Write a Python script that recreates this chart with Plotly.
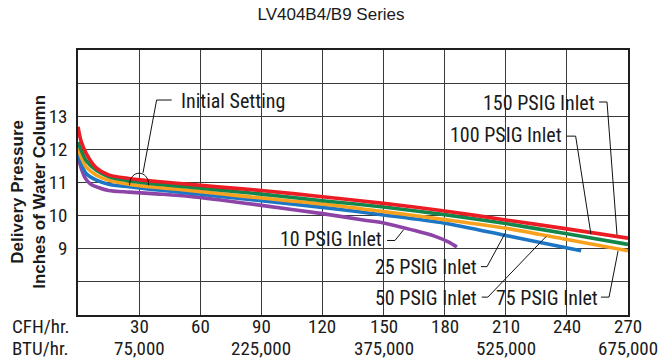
import plotly.graph_objects as go

# ---- data -------------------------------------------------------------
title_text = "LV404B4/B9 Series"

# Flow (CFH) and delivery pressure (in. W.C.) for each inlet pressure
flow_150 = [0, 1.5, 4, 9, 15, 25, 35, 50, 70, 90, 120, 150, 180, 210, 240, 270]
press_150 = [12.68, 12.25, 11.88, 11.44, 11.23, 11.12, 11.05, 10.97, 10.86, 10.76, 10.57, 10.37, 10.14, 9.87, 9.6, 9.32]

flow_100 = [0, 1.5, 4, 9, 15, 25, 35, 50, 70, 90, 120, 150, 180, 210, 240, 270]
press_100 = [12.22, 11.98, 11.66, 11.37, 11.18, 11.05, 10.97, 10.89, 10.77, 10.65, 10.45, 10.26, 10.03, 9.76, 9.45, 9.13]

# 50 and 75 PSIG inlet share one curve
flow_75 = [0, 1.5, 4, 9, 15, 25, 35, 50, 70, 90, 120, 150, 180, 210, 240, 270]
press_75 = [12.02, 11.78, 11.47, 11.22, 11.07, 10.95, 10.87, 10.79, 10.66, 10.53, 10.35, 10.12, 9.88, 9.62, 9.28, 8.94]

flow_25 = [0, 1.5, 4, 9, 15, 25, 35, 50, 70, 90, 120, 150, 180, 210, 230, 247]
press_25 = [11.86, 11.58, 11.27, 11.07, 10.95, 10.87, 10.8, 10.71, 10.58, 10.45, 10.25, 10.02, 9.77, 9.4, 9.15, 8.94]

flow_10 = [0, 1.5, 3.5, 6, 10, 15, 25, 40, 55, 70, 90, 120, 140, 150, 164, 175, 182, 186]
press_10 = [11.8, 11.45, 11.14, 10.96, 10.85, 10.76, 10.71, 10.65, 10.58, 10.47, 10.31, 10.06, 9.87, 9.78, 9.57, 9.38, 9.2, 9.05]

series_names = ["10 PSIG Inlet", "25 PSIG Inlet", "50/75 PSIG Inlet", "100 PSIG Inlet", "150 PSIG Inlet"]
series_colors = ["#8e44a6", "#1c76c4", "#f8a11e", "#13874b", "#ec1c24"]

cfh_ticks = [30, 60, 90, 120, 150, 180, 210, 240, 270]
cfh_labels = ["30", "60", "90", "120", "150", "180", "210", "240", "270"]
btu_ticks = [30, 90, 150, 210, 270]
btu_labels = ["75,000", "225,000", "375,000", "525,000", "675,000"]
y_grid = [7, 8, 9, 10, 11, 12, 13, 14, 15]
y_labels = ["", "", "9", "10", "11", "12", "13", "", ""]

# Callout labels: text, anchor point (flow, pressure), leader polyline
callouts = [
    ("Initial Setting", 49.5, 13.47, "left", [(46.0, 13.49), (38.6, 13.49), (31.9, 11.29)]),
    ("150 PSIG Inlet", 255.0, 13.40, "right", [(255.8, 13.43), (259.7, 13.43), (264.6, 9.42)]),
    ("100 PSIG Inlet", 238.6, 12.44, "right", [(239.9, 12.40), (244.3, 12.40), (251.8, 9.44)]),
    ("10 PSIG Inlet", 150.2, 9.30, "right", [(151.7, 9.25), (155.6, 9.25), (159.8, 9.57)]),
    ("25 PSIG Inlet", 196.9, 8.44, "right", [(197.8, 8.46), (200.8, 8.46), (209.6, 9.46)]),
    ("50 PSIG Inlet", 196.9, 7.50, "right", [(198.2, 7.54), (201.2, 7.54), (229.8, 9.37)]),
    ("75 PSIG Inlet", 256.3, 7.50, "right", [(256.7, 7.54), (260.7, 7.54), (265.1, 8.93)]),
]
# Initial-setting marker arc (centre flow, centre pressure, half-width, height)
arc_cx, arc_cy, arc_rx, arc_ry = 30, 10.92, 4.7, 0.36

# ---- figure -----------------------------------------------------------
NARROW = "Liberation Sans Narrow, Arial Narrow, Roboto Condensed, DejaVu Sans Condensed, Liberation Sans, Arial, sans-serif"
REGULAR = "Liberation Sans, Arial, Helvetica, sans-serif"
TXT = "#1a1a1a"

fig = go.Figure()
for xs, ys, name, color in zip(
    [flow_10, flow_25, flow_75, flow_100, flow_150],
    [press_10, press_25, press_75, press_100, press_150],
    series_names, series_colors,
):
    fig.add_trace(go.Scatter(
        x=xs, y=ys, name=name, mode="lines",
        line=dict(color=color, width=3.6, shape="spline", smoothing=0.8),
        hoverinfo="x+y+name", showlegend=False,
    ))

shapes = []
for _, _, _, _, pts in callouts:
    path = "M {},{} ".format(*pts[0]) + " ".join("L {},{}".format(px, py) for px, py in pts[1:])
    shapes.append(dict(type="path", xref="x", yref="y", path=path,
                       line=dict(color="#111111", width=1)))
k = 4.0 / 3.0
arc = "M {},{} C {},{} {},{} {},{}".format(
    arc_cx - arc_rx, arc_cy,
    arc_cx - arc_rx, arc_cy + arc_ry * k,
    arc_cx + arc_rx, arc_cy + arc_ry * k,
    arc_cx + arc_rx, arc_cy)
shapes.append(dict(type="path", xref="x", yref="y", path=arc,
                   line=dict(color="#111111", width=1)))

annotations = []
for text, ax, ay, anchor, _ in callouts:
    annotations.append(dict(x=ax, y=ay, xref="x", yref="y", text=text, showarrow=False,
                            xanchor=anchor, yanchor="middle",
                            font=dict(family=NARROW, size=20, color=TXT)))

# bottom scale: CFH row and BTU row
ROW1, ROW2, SCALE_SIZE = -11, -33.5, 19
for v, lab in zip(cfh_ticks, cfh_labels):
    annotations.append(dict(x=v, y=0, xref="x", yref="paper", text=lab, showarrow=False,
                            xanchor="center", yanchor="middle", yshift=ROW1,
                            font=dict(family=NARROW, size=SCALE_SIZE, color=TXT)))
for v, lab in zip(btu_ticks, btu_labels):
    annotations.append(dict(x=v, y=0, xref="x", yref="paper", text=lab, showarrow=False,
                            xanchor="center", yanchor="middle", yshift=ROW2,
                            font=dict(family=NARROW, size=SCALE_SIZE, color=TXT)))
annotations.append(dict(x=-0.124, y=0, xref="paper", yref="paper", text="CFH/hr.", showarrow=False,
                        xanchor="left", yanchor="middle", yshift=ROW1,
                        font=dict(family=NARROW, size=SCALE_SIZE, color=TXT)))
annotations.append(dict(x=-0.124, y=0, xref="paper", yref="paper", text="BTU/hr.", showarrow=False,
                        xanchor="left", yanchor="middle", yshift=ROW2,
                        font=dict(family=NARROW, size=SCALE_SIZE, color=TXT)))

# y-axis title (two bold lines)
annotations.append(dict(x=-0.089, y=0.465, xref="paper", yref="paper",
                        text="Delivery Pressure<br>Inches of Water Column", showarrow=False,
                        textangle=-90, xanchor="center", yanchor="middle", align="center",
                        font=dict(family=REGULAR, size=17, color=TXT, weight="bold")))

fig.update_layout(
    width=662, height=362,
    margin=dict(l=78, r=34, t=50, b=47),
    paper_bgcolor="white", plot_bgcolor="white",
    title=dict(text=title_text, x=0.5, xref="container", xanchor="center",
               y=1 - 14 / 362, yref="container", yanchor="middle",
               font=dict(family=REGULAR, size=17, color=TXT)),
    xaxis=dict(range=[0, 270], tick0=0, dtick=30, showticklabels=False, ticks="",
               showgrid=True, gridcolor="#3a3a3a", gridwidth=1.2, zeroline=False,
               showline=True, linecolor="#1e1e1e", linewidth=1.5, mirror=True),
    yaxis=dict(range=[7, 15], tickmode="array", tickvals=y_grid, ticktext=y_labels,
               ticks="", ticklabelstandoff=5,
               tickfont=dict(family=NARROW, size=19, color=TXT),
               showgrid=True, gridcolor="#3a3a3a", gridwidth=1.2, zeroline=False,
               showline=True, linecolor="#1e1e1e", linewidth=1.5, mirror=True),
    shapes=shapes, annotations=annotations,
    showlegend=False,
)

fig.write_html("out.html")
